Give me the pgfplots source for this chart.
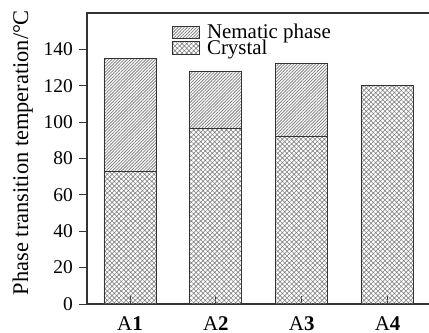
\documentclass[border=0pt]{standalone}
\usepackage{fontspec}
\setmainfont{Liberation Serif}
\usepackage{pgfplots}
\pgfplotsset{compat=1.18}
\usetikzlibrary{patterns.meta}
\definecolor{axcol}{HTML}{333333}
\definecolor{hatchcol}{HTML}{808080}
\begin{document}
\begin{tikzpicture}
\begin{axis}[
  scale only axis, width=343bp, height=291bp,
  xmin=0.5, xmax=4.4942, ymin=0, ymax=160,
  ybar stacked, bar width=0.605,
  xtick={1,2,3,4},
  xticklabels={A\textbf{1},A\textbf{2},A\textbf{3},A\textbf{4}},
  ytick={0,20,...,140},
  tick align=inside, xtick pos=bottom, ytick pos=left,
  major tick length=7.5bp,
  every tick/.style={axcol, line width=0.8bp},
  ytick style={xshift=-7.5bp},
  axis line style={axcol, line width=1.2bp},
  /pgf/number format/assume math mode=true,
  yticklabel style={font=\fontsize{19.5}{19.5}\selectfont, inner sep=0pt, xshift=-14bp},
  xticklabel style={font=\fontsize{21}{21}\selectfont, inner sep=0pt, anchor=base, yshift=-26bp},
  legend style={draw=none, fill=none, at={(0.248,0.9565)}, anchor=north west,
    font=\fontsize{21}{14}\selectfont, legend cell align=left, row sep=0pt,
    inner sep=0pt, column sep=7bp,
    nodes={inner sep=0pt, text height=11.8bp, text depth=2.7bp}},
  legend image code/.code={\draw[#1, draw=axcol, line width=0.8bp] (0bp,-4.5bp) rectangle (27bp,7.8bp);},
  reverse legend,
]
\coordinate (bl) at (rel axis cs:0,0);
\coordinate (tr) at (rel axis cs:1,1);
\addplot[draw=axcol, line width=0.8bp, pattern={Hatch[angle=45,distance=3.3bp,line width=0.6bp]}, pattern color=hatchcol]
  coordinates {(1,73) (2,96.5) (3,92) (4,120)};
\addlegendentry{Crystal}
\addplot[draw=axcol, line width=0.8bp, pattern={Lines[angle=45,distance=2.2bp,line width=0.8bp]}, pattern color=hatchcol]
  coordinates {(1,62) (2,31.5) (3,40.5) (4,0)};
\addlegendentry{Nematic phase}
\end{axis}
\node[rotate=90, anchor=base, font=\fontsize{22.5}{22.5}\selectfont]
  at ([xshift=-59bp, yshift=151bp]bl) {Phase transition temperation/°\kern-0.05em C};
\pgfresetboundingbox
\path[use as bounding box] ([xshift=-87bp, yshift=-29bp]bl) rectangle ([xshift=-1bp, yshift=13bp]tr);
\end{tikzpicture}
\end{document}
